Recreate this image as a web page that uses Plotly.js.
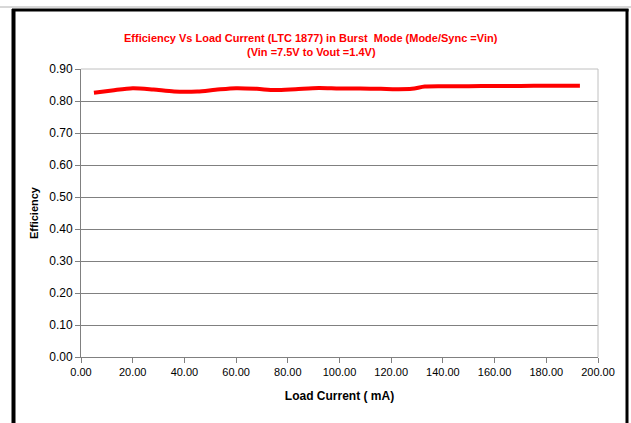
<!DOCTYPE html>
<html>
<head>
<meta charset="utf-8">
<script src="https://cdn.plot.ly/plotly-3.0.1.min.js"></script>
<style>html,body{margin:0;padding:0;background:#fff;}#chart{width:631px;height:423px;}</style>
</head>
<body>
<div id="chart"></div>
<script>
// Data
var loadCurrent = [5, 12, 20, 28, 36, 45, 52, 60, 68, 75, 83, 92, 100, 108, 116, 122, 128, 133, 140, 150, 160, 170, 180, 193];
var efficiency  = [0.826, 0.833, 0.840, 0.836, 0.830, 0.830, 0.835, 0.840, 0.838, 0.834, 0.837, 0.841, 0.839, 0.839, 0.838, 0.837, 0.838, 0.845, 0.846, 0.846, 0.847, 0.847, 0.848, 0.848];
var yTicks = [0, 0.1, 0.2, 0.3, 0.4, 0.5, 0.6, 0.7, 0.8, 0.9];
var xTicks = [0, 20, 40, 60, 80, 100, 120, 140, 160, 180, 200];
var titleLine1 = 'Efficiency Vs Load Current (LTC 1877) in Burst  Mode (Mode/Sync =Vin)';
var titleLine2 = '(Vin =7.5V to Vout =1.4V)';

var L = 81, R = 33, T = 69, B = 66, W = 631, H = 423;
var pw = W - L - R, ph = H - T - B;
function px(x) { return (x - L) / pw; }
function py(y) { return (H - B - y) / ph; }

var trace = {
  x: loadCurrent, y: efficiency, type: 'scatter', mode: 'lines',
  line: {color: '#ff0000', width: 4, shape: 'spline', smoothing: 0.8},
  hoverinfo: 'skip'
};

var fam = 'Liberation Sans Narrow, Liberation Sans, Arial, sans-serif';

var layout = {
  width: W, height: H,
  margin: {l: L, r: R, t: T, b: B, pad: 0},
  paper_bgcolor: '#ffffff', plot_bgcolor: '#ffffff',
  showlegend: false,
  font: {family: fam, size: 11, color: '#000'},
  xaxis: {
    range: [0, 200], tickvals: xTicks, ticktext: xTicks.map(function(v){return v.toFixed(2);}),
    showgrid: false, zeroline: false, showline: true, linecolor: '#808080', linewidth: 1,
    ticks: 'outside', ticklen: 5, tickcolor: '#808080',
    tickfont: {family: fam, size: 11, color: '#000'},
    title: {text: 'Load Current ( mA)', standoff: 14,
            font: {family: fam, size: 12, color: '#000', weight: 'bold'}},
    fixedrange: true
  },
  yaxis: {
    range: [0, 0.9], tickvals: yTicks, ticktext: yTicks.map(function(v){return v.toFixed(2);}),
    showgrid: true, gridcolor: '#808080', gridwidth: 1, zeroline: false,
    showline: true, linecolor: '#808080', linewidth: 1,
    ticks: 'outside', ticklen: 5, tickcolor: '#808080',
    tickfont: {family: fam, size: 12, color: '#000'},
    title: {text: 'Efficiency', standoff: 8,
            font: {family: fam, size: 11, color: '#000', weight: 'bold'}},
    fixedrange: true
  },
  shapes: [
    // plot area border (top & right)
    {type: 'line', xref: 'paper', yref: 'paper', x0: 0, x1: 1, y0: 1, y1: 1, line: {color: '#c0c0c0', width: 1}},
    {type: 'line', xref: 'paper', yref: 'paper', x0: 1, x1: 1, y0: 0, y1: 1, line: {color: '#c0c0c0', width: 1}},
    // document rule above
    {type: 'line', xref: 'paper', yref: 'paper', x0: px(0), x1: px(631), y0: py(7), y1: py(7), line: {color: '#b0b0b0', width: 1}},
    // black frame
    {type: 'line', xref: 'paper', yref: 'paper', x0: px(12), x1: px(628.5), y0: py(10), y1: py(10), line: {color: '#000', width: 3}},
    {type: 'line', xref: 'paper', yref: 'paper', x0: px(13.5), x1: px(13.5), y0: py(9), y1: py(430), line: {color: '#000', width: 4}},
    {type: 'line', xref: 'paper', yref: 'paper', x0: px(627), x1: px(627), y0: py(9), y1: py(430), line: {color: '#000', width: 3}}
  ],
  annotations: [
    {xref: 'paper', yref: 'paper', x: px(311), y: py(38), xanchor: 'center', yanchor: 'middle', showarrow: false,
     text: '<b>' + titleLine1 + '</b>',
     font: {family: fam, size: 11, color: '#ff0000'}},
    {xref: 'paper', yref: 'paper', x: px(311), y: py(52), xanchor: 'center', yanchor: 'middle', showarrow: false,
     text: '<b>' + titleLine2 + '</b>',
     font: {family: fam, size: 11, color: '#ff0000'}}
  ]
};

Plotly.newPlot('chart', [trace], layout, {staticPlot: true, displayModeBar: false});
</script>
</body>
</html>
